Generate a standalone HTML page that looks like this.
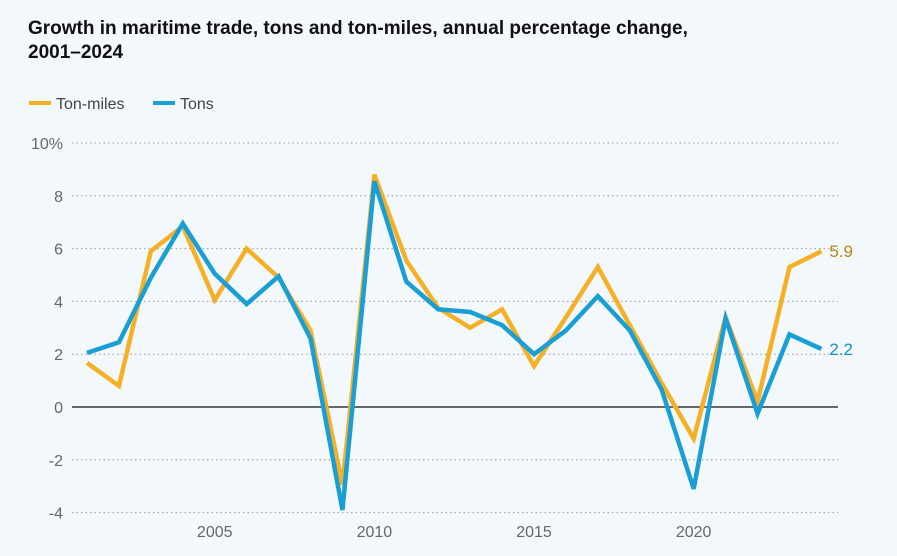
<!DOCTYPE html>
<html><head><meta charset="utf-8"><style>
body{margin:0;background:#f3f8fc;font-family:"Liberation Sans",Arial,sans-serif;}
</style></head><body>
<svg width="897" height="551" xmlns="http://www.w3.org/2000/svg">
<rect width="897" height="551" fill="#f3f8fc"/>
<text x="28" y="34" font-size="19" font-weight="bold" fill="#111">Growth in maritime trade, tons and ton-miles, annual percentage change,</text>
<text x="28" y="58" font-size="19" font-weight="bold" fill="#111">2001–2024</text>
<g>
<line x1="29" y1="103" x2="51" y2="103" stroke="#f5b025" stroke-width="4"/>
<text x="56" y="109" font-size="16" fill="#444">Ton-miles</text>
<line x1="153" y1="103" x2="175" y2="103" stroke="#199ed5" stroke-width="4"/>
<text x="180" y="109" font-size="16" fill="#444">Tons</text>
</g>
<g id="grid"></g><g id="lines"></g>
</svg>
<script>
const years=[2001,2002,2003,2004,2005,2006,2007,2008,2009,2010,2011,2012,2013,2014,2015,2016,2017,2018,2019,2020,2021,2022,2023,2024];
const tonMiles=[1.67,0.8,5.9,6.85,4.05,6.0,4.9,2.9,-2.95,8.8,5.55,3.75,3.0,3.7,1.55,3.4,5.3,3.1,0.9,-1.2,3.4,0.2,5.3,5.9];
const tons=[2.05,2.45,4.9,6.95,5.05,3.9,4.95,2.6,-3.9,8.55,4.75,3.7,3.6,3.1,2.0,2.9,4.2,2.9,0.65,-3.1,3.35,-0.25,2.75,2.2];
const yTicks=[10,8,6,4,2,0,-2,-4];
const yTickLabels=["10%","8","6","4","2","0","-2","-4"];
const xTicks=[2005,2010,2015,2020];
const NS="http://www.w3.org/2000/svg";
const xs=y=>87+(y-2001)*31.93;
const ys=v=>407-v*26.4;
const grid=document.getElementById('grid'),lines=document.getElementById('lines');
function mk(tag,attrs,parent){const e=document.createElementNS(NS,tag);for(const k in attrs)e.setAttribute(k,attrs[k]);parent.appendChild(e);return e;}
yTicks.forEach((t,i)=>{
 const l=mk('line',{x1:72,x2:838,y1:ys(t),y2:ys(t),stroke:t===0?'#111':'#999','stroke-width':t===0?1.2:1,'stroke-dasharray':t===0?'none':'1.5,3'},grid);
 
 
 const tx=mk('text',{x:63,y:ys(t)+6,'font-size':16,fill:'#666','text-anchor':'end'},grid);tx.textContent=yTickLabels[i];
 
 
});
xTicks.forEach(t=>{
 const tx=mk('text',{x:xs(t),y:537,'font-size':16,fill:'#666','text-anchor':'middle'},grid);tx.textContent=t;
 
 
});
function series(vals,color,name,labelColor){
 const p=mk('polyline',{points:vals.map((v,i)=>xs(years[i])+','+ys(v)).join(' '),fill:'none',stroke:color,'stroke-width':4.5,'stroke-linejoin':'miter'},lines);
 
 
 const last=vals[vals.length-1];
 const t=mk('text',{x:xs(years[years.length-1])+8,y:ys(last)+6,'font-size':17,fill:labelColor},lines);t.textContent=last.toFixed(1);
 
 
}
series(tonMiles,'#f5b025','ton-miles','#b98616');
series(tons,'#199ed5','tons','#1a90c4');
</script>
</body></html>
